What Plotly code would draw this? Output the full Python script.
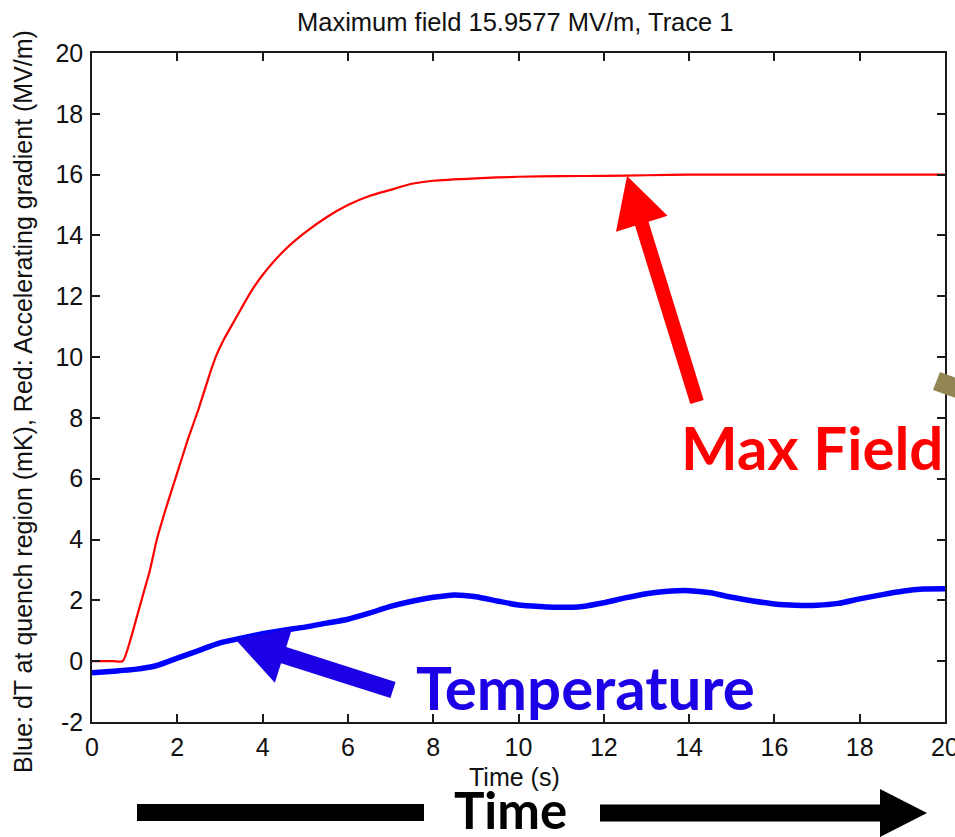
import plotly.graph_objects as go

# ---- data ----
field_t = [0, 0.5, 0.72, 0.9, 1.05, 1.2, 1.36, 1.52, 1.75, 2.0, 2.25, 2.5, 2.75, 2.9, 3.1, 3.3,
           3.5, 3.75, 4.0, 4.5, 5.0, 5.5, 6.0, 6.5, 7.0, 7.5, 8.0, 9.0, 10.0, 11.0, 12.0,
           13.0, 14.0, 16.0, 18.0, 20.0]
field_v = [0, 0, 0, 0.7, 1.45, 2.2, 3.0, 4.0, 5.1, 6.2, 7.3, 8.3, 9.4, 10.0, 10.6, 11.1,
           11.6, 12.2, 12.7, 13.5, 14.1, 14.6, 15.0, 15.3, 15.5, 15.7, 15.8, 15.88, 15.93, 15.95, 15.96,
           15.98, 16.0, 16.0, 16.0, 16.0]

temp_t = [0, 0.5, 1.0, 1.5, 2.0, 2.5, 3.0, 3.5, 4.0, 4.5, 5.0, 5.5, 6.0, 6.5, 7.0, 7.5,
          8.0, 8.5, 9.0, 9.5, 10.0, 10.5, 11.0, 11.5, 12.0, 12.5, 13.0, 13.5, 14.0, 14.5,
          15.0, 15.5, 16.0, 16.5, 17.0, 17.5, 18.0, 18.5, 19.0, 19.5, 20.0]
temp_v = [-0.38, -0.33, -0.27, -0.15, 0.1, 0.35, 0.6, 0.76, 0.9, 1.02, 1.12, 1.25, 1.38, 1.58, 1.8, 1.97,
          2.1, 2.18, 2.12, 1.98, 1.85, 1.8, 1.77, 1.8, 1.92, 2.08, 2.22, 2.3, 2.32, 2.25,
          2.1, 1.98, 1.88, 1.84, 1.84, 1.9, 2.05, 2.18, 2.3, 2.37, 2.38]

x_ticks = list(range(0, 21, 2))
y_ticks = list(range(-2, 21, 2))

title_text = "Maximum field 15.9577 MV/m, Trace 1"
x_label = "Time (s)"
y_label = "Blue: dT at quench region (mK), Red: Accelerating gradient (MV/m)"

# ---- layout geometry (pixels) ----
W, H = 955, 837
L, R, T, B = 92, 945, 53, 722


def px(x):
    return (x - L) / (R - L)


def py(y):
    return (B - y) / (B - T)


def arrow_path(tail, tip, shaft_w, head_len, head_w):
    import math
    dx, dy = tip[0] - tail[0], tip[1] - tail[1]
    ln = math.hypot(dx, dy)
    ux, uy = dx / ln, dy / ln
    nx, ny = -uy, ux
    bx, by = tip[0] - ux * head_len, tip[1] - uy * head_len
    pts = [
        (tail[0] + nx * shaft_w / 2, tail[1] + ny * shaft_w / 2),
        (bx + nx * shaft_w / 2, by + ny * shaft_w / 2),
        (bx + nx * head_w / 2, by + ny * head_w / 2),
        tip,
        (bx - nx * head_w / 2, by - ny * head_w / 2),
        (bx - nx * shaft_w / 2, by - ny * shaft_w / 2),
        (tail[0] - nx * shaft_w / 2, tail[1] - ny * shaft_w / 2),
    ]
    return "M " + " L ".join(f"{px(a):.5f},{py(b):.5f}" for a, b in pts) + " Z"


def poly_path(pts):
    return "M " + " L ".join(f"{px(a):.5f},{py(b):.5f}" for a, b in pts) + " Z"


fig = go.Figure()
fig.add_trace(go.Scatter(x=field_t, y=field_v, mode="lines", line_shape="spline",
                         line=dict(color="#ff0000", width=2.2, smoothing=0.6), showlegend=False))
fig.add_trace(go.Scatter(x=temp_t, y=temp_v, mode="lines", line_shape="spline",
                         line=dict(color="#0000ff", width=5.5, smoothing=0.6), showlegend=False))

FONT = "Liberation Sans, Arial"
axis_common = dict(
    showline=True, linecolor="#1a1a1a", linewidth=1.5, mirror="ticks",
    ticks="inside", ticklen=8, tickwidth=1.5, tickcolor="#1a1a1a",
    showgrid=False, zeroline=False, ticklabeloverflow="allow", automargin=False,
    tickfont=dict(family=FONT, size=25, color="#111"),
)

fig.update_xaxes(range=[0, 20], tickvals=x_ticks, ticktext=[str(v) for v in x_ticks],
                 ticklabelstandoff=2, **axis_common)
fig.update_yaxes(range=[-2, 20], tickvals=y_ticks, ticktext=[str(v) for v in y_ticks],
                 ticklabelstandoff=2, **axis_common)


def ann(text, x, y, size, color, family=FONT, angle=0):
    return dict(text=text, x=px(x), y=py(y), xref="paper", yref="paper",
                xanchor="center", yanchor="middle", textangle=angle,
                showarrow=False, font=dict(family=family, size=size, color=color))


annotations = [
    ann(title_text, 515, 22, 25.5, "#111"),
    ann(x_label, 514, 777, 25, "#111"),
    ann(y_label, 23, 402, 25, "#111", angle=-90),
    ann("<b>Temperature</b>", 585, 687, 60, "#1c00e6", family="Lato"),
    ann("<b>Max Field</b>", 812, 447, 60, "#ff0000", family="Lato"),
    ann("<b>Time</b>", 510, 809, 51, "#000000", family="Lato"),
]

shapes = [
    dict(type="path", xref="paper", yref="paper", line=dict(width=0), fillcolor="#ff0000",
         path=arrow_path((697, 402), (627, 176), 14, 50, 54)),
    dict(type="path", xref="paper", yref="paper", line=dict(width=0), fillcolor="#1c00e6",
         path=arrow_path((393, 690), (236, 640), 17, 50, 58)),
    dict(type="path", xref="paper", yref="paper", line=dict(width=0), fillcolor="#000000",
         path=poly_path([(137, 804), (424, 804), (424, 821), (137, 821)])),
    dict(type="path", xref="paper", yref="paper", line=dict(width=0), fillcolor="#000000",
         path=arrow_path((600, 813), (927, 813), 17, 47, 48)),
    dict(type="path", xref="paper", yref="paper", line=dict(width=0), fillcolor="#938654",
         path=poly_path([(940, 372), (933, 390), (956, 398), (956, 378)])),
]

fig.update_layout(
    width=W, height=H,
    margin=dict(l=L, r=W - R, t=T, b=H - B, autoexpand=False),
    paper_bgcolor="white", plot_bgcolor="white",
    annotations=annotations, shapes=shapes,
    showlegend=False,
)

fig.write_html("out.html")
